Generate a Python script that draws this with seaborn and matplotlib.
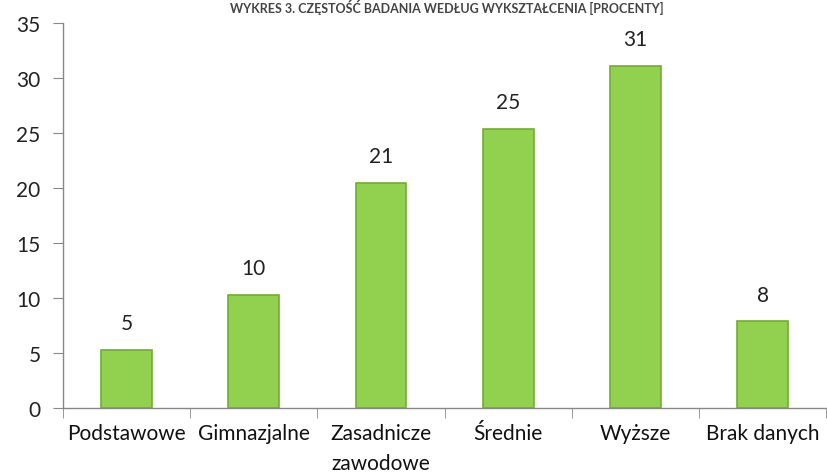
import matplotlib
matplotlib.use("Agg")
import matplotlib.pyplot as plt
import seaborn as sns
import pandas as pd
import numpy as np

categories = ["Podstawowe", "Gimnazjalne", "Zasadnicze\nzawodowe", "Średnie", "Wyższe", "Brak danych"]
values = [5.3, 10.3, 20.5, 25.4, 31.1, 7.9]
labels = ["5", "10", "21", "25", "31", "8"]
title = "WYKRES 3. CZĘSTOŚĆ BADANIA WEDŁUG WYKSZTAŁCENIA [PROCENTY]"

sns.set_style("white")
plt.rcParams['font.family'] = ['Lato', 'DejaVu Sans']

df = pd.DataFrame({"cat": categories, "val": values})

fig = plt.figure(figsize=(8.28, 4.77), dpi=100)
ax = fig.add_axes([0.076, 0.1426, 0.922, 0.807])
sns.barplot(data=df, x="cat", y="val", ax=ax, color="#92d050", width=0.4,
            edgecolor="#72ad34", linewidth=1.2, saturation=1)

for p, lab in zip(ax.patches, labels):
    ax.text(p.get_x() + p.get_width() / 2, p.get_height() + 1.5, lab,
            ha="center", va="bottom", fontsize=15, color="#222222")

ax.set_ylim(0, 35)
ax.set_xlim(-0.5, len(categories) - 0.5)
ax.set_yticks(np.arange(0, 36, 5))
ax.set_xlabel("")
ax.set_ylabel("")
ax.tick_params(axis="y", which="major", direction="out", length=7, color="#888888",
               labelsize=15, labelcolor="#222222", pad=9, left=True)
ax.tick_params(axis="x", which="major", length=0, labelsize=15, labelcolor="#111111", pad=11)
for t in ax.get_xticklabels():
    t.set_linespacing(1.6)
ax.set_xticks(np.arange(-0.5, len(categories), 1.0), minor=True)
ax.tick_params(axis="x", which="minor", direction="out", length=7, color="#888888", bottom=True)
for s in ["top", "right"]:
    ax.spines[s].set_visible(False)
for s in ["left", "bottom"]:
    ax.spines[s].set_color("#888888")
    ax.spines[s].set_linewidth(1.0)

fig.text(0.54, 0.985, title, ha="center", va="center", fontsize=9, color="#444444",
         fontweight="bold")

fig.savefig("out.png", dpi=100)
